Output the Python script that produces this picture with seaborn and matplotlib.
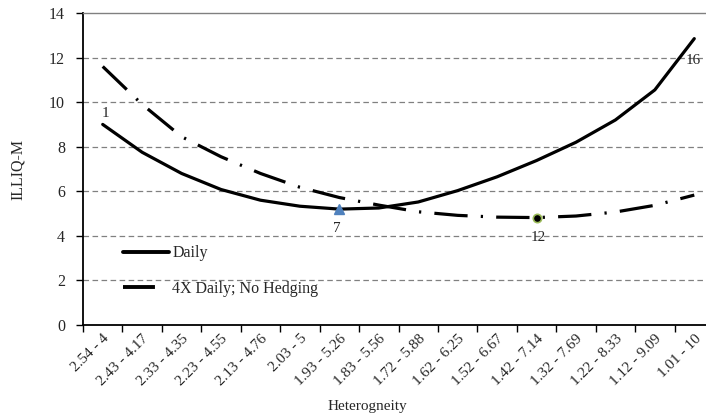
import matplotlib
matplotlib.use("Agg")
import matplotlib.pyplot as plt
import seaborn as sns
import pandas as pd
import numpy as np

categories = ["2.54 - 4", "2.43 - 4.17", "2.33 - 4.35", "2.23 - 4.55", "2.13 - 4.76",
              "2.03 - 5", "1.93 - 5.26", "1.83 - 5.56", "1.72 - 5.88", "1.62 - 6.25",
              "1.52 - 6.67", "1.42 - 7.14", "1.32 - 7.69", "1.22 - 8.33", "1.12 - 9.09",
              "1.01 - 10"]
daily = [9.0, 7.75, 6.8, 6.08, 5.6, 5.33, 5.2, 5.25, 5.52, 6.03, 6.65, 7.38, 8.2, 9.2, 10.55, 12.85]
daily4x = [11.6, 9.9, 8.45, 7.55, 6.8, 6.18, 5.72, 5.38, 5.08, 4.92, 4.84, 4.82, 4.89, 5.07, 5.37, 5.83]
series_names = ["Daily", "4X Daily; No Hedging"]

sns.set_theme(style="white")
plt.rcParams["font.family"] = ["Liberation Serif", "DejaVu Serif"]
plt.rcParams["lines.scale_dashes"] = False

x = np.arange(len(categories))
df = pd.DataFrame({
    "x": np.concatenate([x, x]),
    "y": daily + daily4x,
    "series": [series_names[0]] * len(x) + [series_names[1]] * len(x),
})

fig = plt.figure(figsize=(7.06, 4.19), dpi=100)
ax = fig.add_axes([83 / 706, 94 / 419, (714 - 83) / 706, (325 - 13) / 419])

sns.lineplot(data=df, x="x", y="y", hue="series", style="series",
             palette=["black", "black"],
             dashes={series_names[0]: "", series_names[1]: (24, 9.5, 1.6, 9.5)},
             linewidth=2.3, ax=ax, legend=True)

# markers
ax.plot(x[6], daily[6], marker="^", color="#4F81BD", markersize=7, linestyle="none", zorder=5)
ax.plot(x[11], daily4x[11], marker="o", markerfacecolor="black", markeredgecolor="#9BBB59",
        markeredgewidth=1.2, markersize=6, linestyle="none", zorder=5)

# point labels
ax.annotate("1", (x[0], daily[0]), xytext=(2, 3), textcoords="offset points",
            ha="center", va="bottom", fontsize=11)
ax.annotate("7", (x[6], daily[6]), xytext=(-2, -9), textcoords="offset points",
            ha="center", va="top", fontsize=11)
ax.annotate("16", (x[15], daily[15]), xytext=(-1, -11), textcoords="offset points",
            ha="center", va="top", fontsize=11)
ax.annotate("12", (x[11], daily4x[11]), xytext=(1, -10), textcoords="offset points",
            ha="center", va="top", fontsize=11)

ax.set_xlim(-0.5, len(categories) - 0.5)
ax.set_ylim(0, 14)
ax.set_yticks(np.arange(0, 15, 2))
ax.set_yticklabels([str(v) for v in range(0, 15, 2)], fontsize=11.5)
ax.set_xticks(x)
ax.set_xticklabels(categories, rotation=45, ha="right", rotation_mode="anchor", fontsize=11)
ax.set_xticks(np.arange(-0.5, len(categories) + 0.5, 1), minor=True)
ax.tick_params(axis="x", which="major", length=0, pad=5)
ax.tick_params(axis="x", which="minor", length=5, width=1, color="black", direction="out", bottom=True)
ax.tick_params(axis="y", which="major", length=5, width=1, color="black", direction="out", left=True, pad=8)

for yv in range(2, 14, 2):
    ax.axhline(yv, color="#808080", linestyle=(0, (4, 2.5)), linewidth=0.9, zorder=0)

ax.set_xlabel("Heterogneity", fontsize=11)
ax.set_ylabel("ILLIQ-M", fontsize=11.5)
ax.xaxis.set_label_coords((367 - 83) / (714 - 83), -(400 - 325) / 312)
ax.yaxis.set_label_coords(-(83 - 18) / (714 - 83), 0.5)
ax.yaxis.label.set_va("center")

for s in ["left", "bottom"]:
    ax.spines[s].set_color("black")
    ax.spines[s].set_linewidth(1.3)
ax.spines["top"].set_color("#808080")
ax.spines["top"].set_linewidth(1.0)
ax.spines["right"].set_visible(False)

leg = ax.legend(loc="lower left", bbox_to_anchor=(0.04, 0.045), frameon=False, fontsize=11.5,
                handlelength=2.9, handletextpad=0.2, labelspacing=1.2)
for line in leg.get_lines():
    line.set_linewidth(2.8)
leg.get_lines()[1].set_dashes([23, 40])

fig.savefig("out.png", dpi=100)
